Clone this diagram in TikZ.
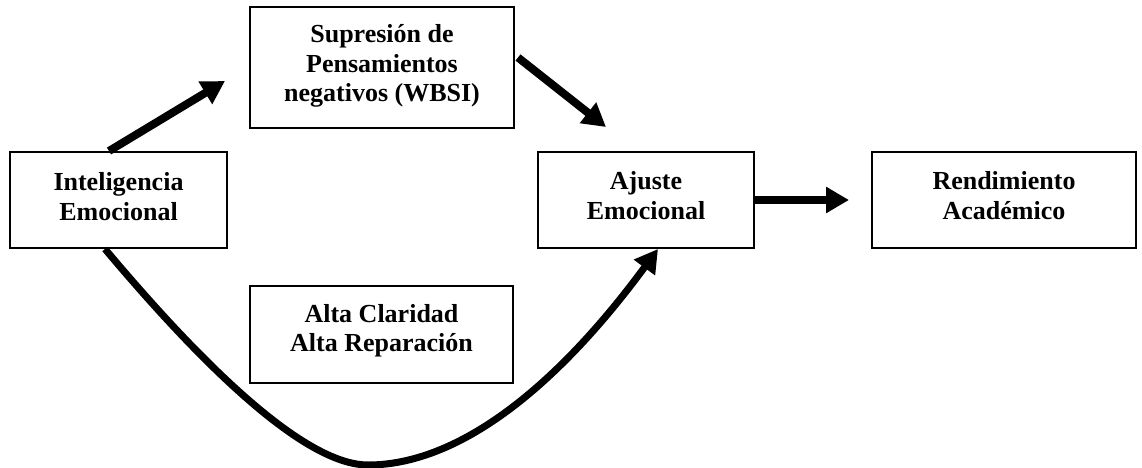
\documentclass[tikz,border=0pt]{standalone}
\usepackage{fontspec}
\setmainfont{Liberation Serif}
\usetikzlibrary{arrows.meta,calc}
\begin{document}
\begin{tikzpicture}[x=1pt,y=-1pt,
  box/.style={draw,line width=2pt,inner sep=0pt},
  lbl/.style={align=center,inner sep=0pt,
    font=\fontsize{26}{29.5}\selectfont\bfseries},
  arr/.style={line width=8pt,-{Triangle[length=23pt,width=25pt]}}]
\useasboundingbox (0,0) rectangle (1142,468);
\node[box,minimum width=217pt,minimum height=96pt] (inte) at (118.5,200) {};
\node[box,minimum width=264pt,minimum height=121pt] (sup) at (382,67.5) {};
\node[box,minimum width=216pt,minimum height=96pt] (aju) at (646,200) {};
\node[box,minimum width=264pt,minimum height=96pt] (ren) at (1004,200) {};
\node[box,minimum width=263pt,minimum height=97pt] (alta) at (381.5,334.5) {};
\node[lbl] (inteT) at ($(inte)+(0,-3.5)$) {Inteligencia\\Emocional};
\node[lbl] (supT) at ($(sup)+(0,-1.5)$) {Supresión de\\Pensamientos\\negativos (WBSI)};
\node[lbl] (ajuT) at ($(aju)+(0,-4.5)$) {Ajuste\\Emocional};
\node[lbl] (renT) at ($(ren)+(0,-4.5)$) {Rendimiento\\Académico};
\node[lbl] (altaT) at ($(alta)+(0,-4)$) {Alta Claridad\\Alta Reparación};
\draw[arr] ($(inte.north)+(-9.5,0)$) -- ($(sup.west)+(-24,13.5)$);
\draw[arr] ($(sup.east)+(3,-10)$) -- ($(aju.north)+(-40,-24)$);
\draw[arr] (aju.east) -- ($(ren.west)+(-22,0)$);
\coordinate (low) at (368,465);
\draw[arr,line width=7pt] ($(inte.south)+(-13.5,0)$) .. controls (226,393) and (314,465) .. (low)
  .. controls (455,465) and (552,393) .. ($(aju.south)+(12,0)$);
\end{tikzpicture}
\end{document}
